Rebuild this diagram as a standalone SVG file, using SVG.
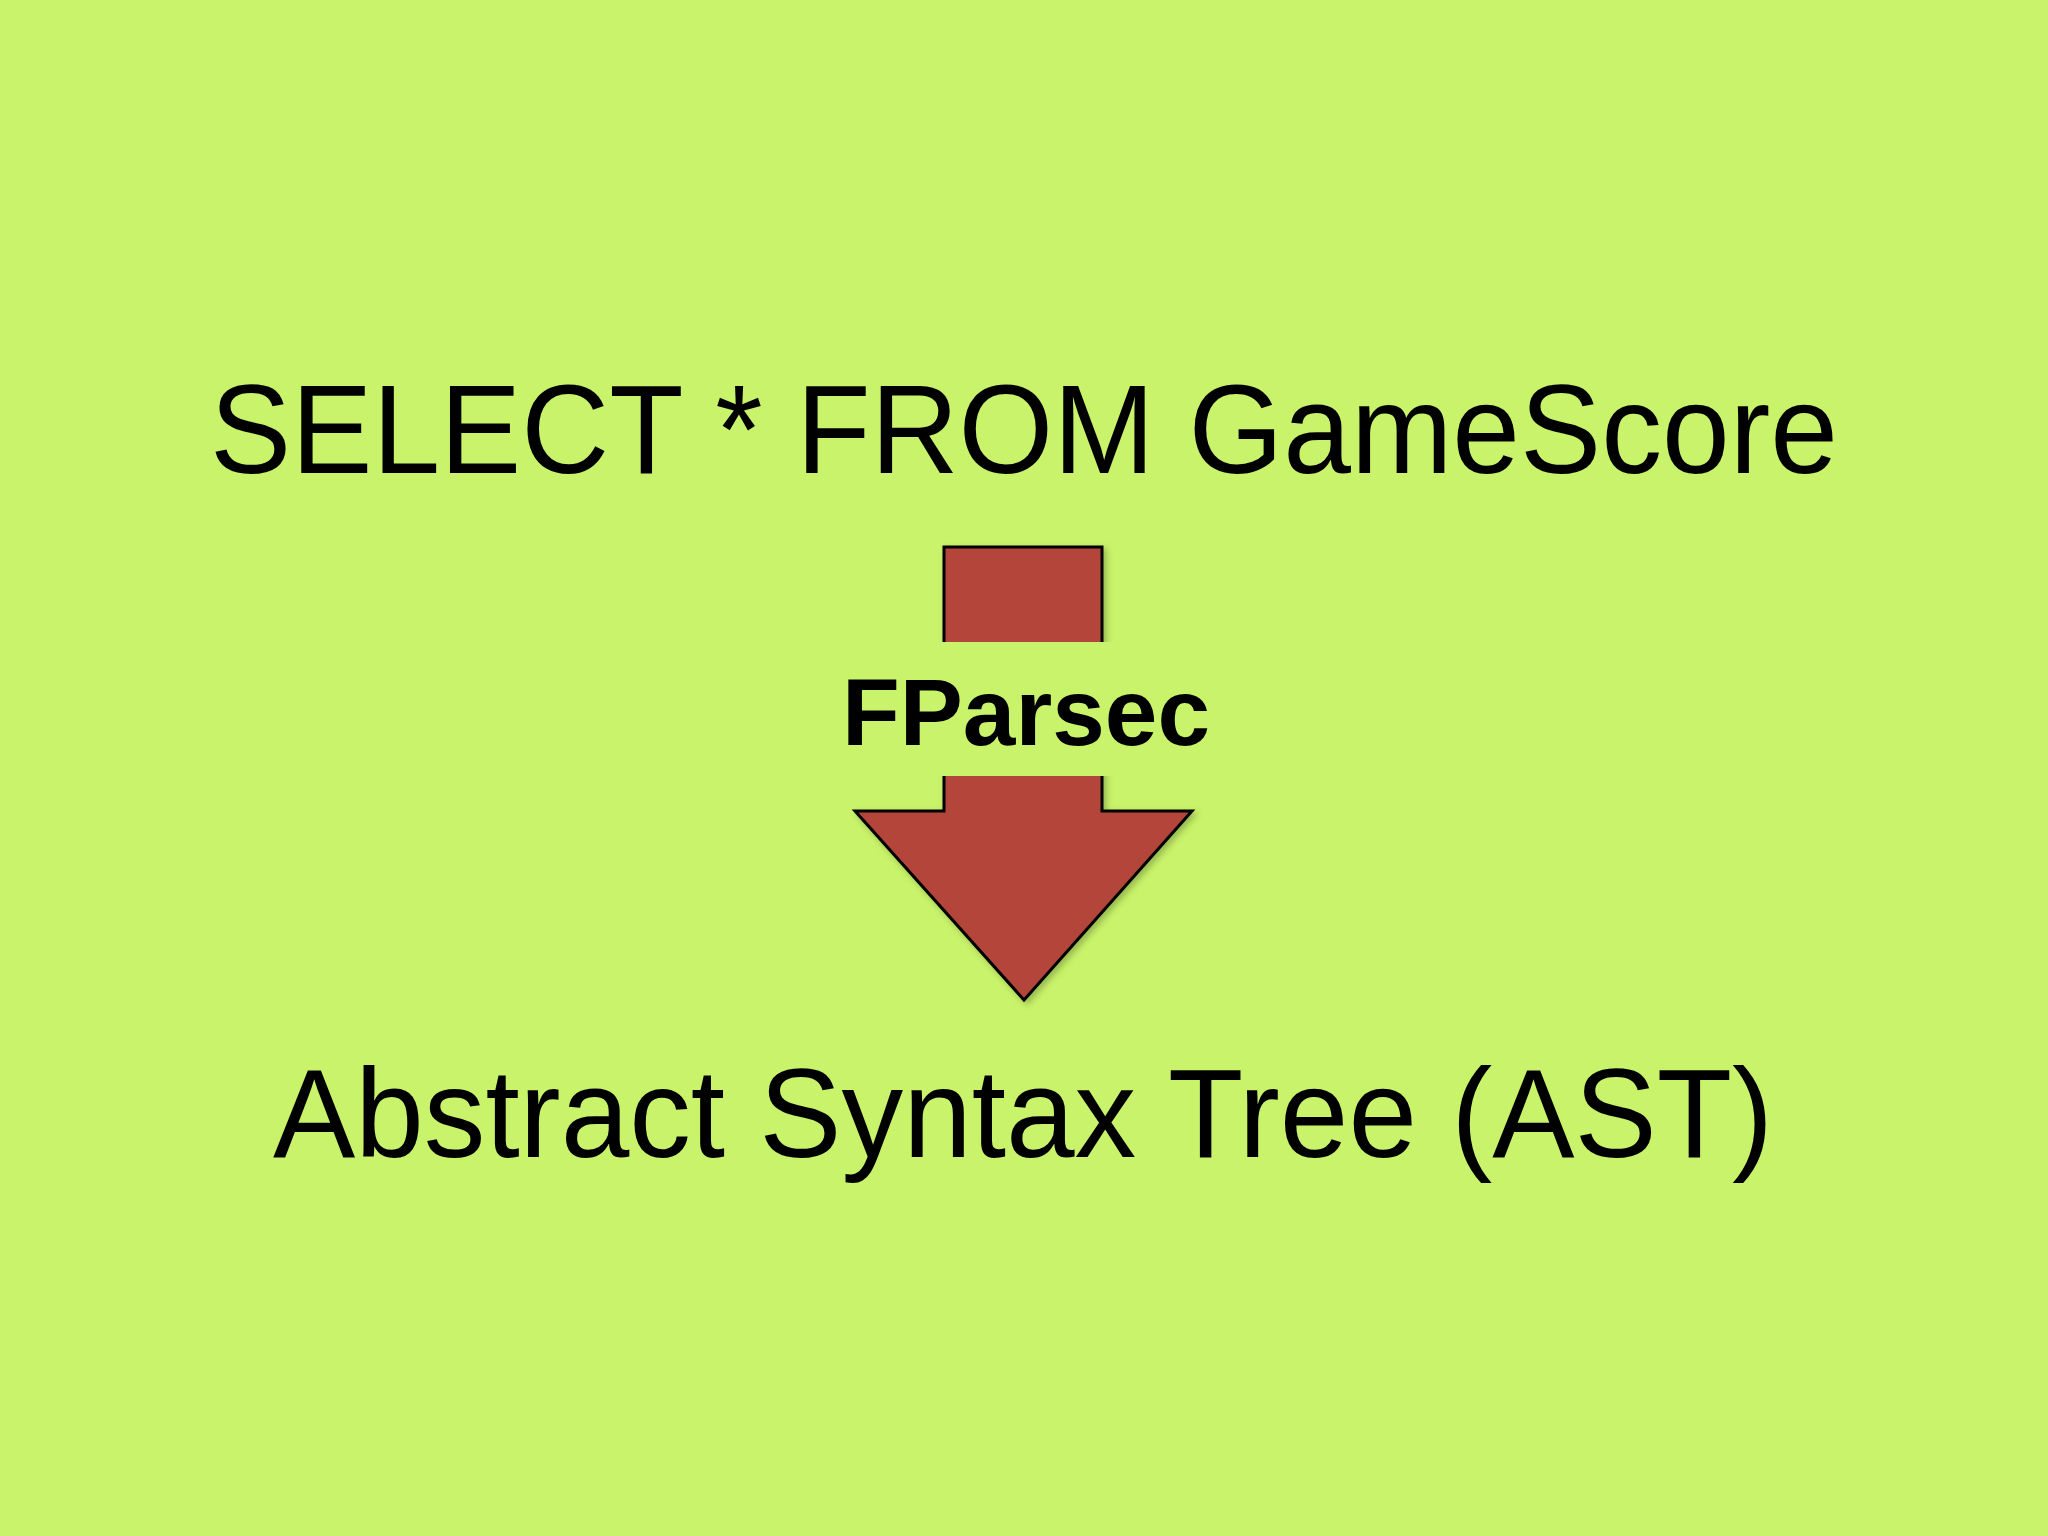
<svg xmlns="http://www.w3.org/2000/svg" width="2048" height="1536" viewBox="0 0 2048 1536">
  <defs>
    <style>
      .big { font-family: "Liberation Sans", Arial, Helvetica, sans-serif; font-size: 126px; fill: #000; }
      .label { font-family: "Liberation Sans", Arial, Helvetica, sans-serif; font-size: 95px; font-weight: bold; fill: #000; }
      .arrow { fill: #b4453a; stroke: #000; stroke-width: 3; stroke-linejoin: miter; }
    </style>
    <filter id="shadow" x="-10%" y="-10%" width="130%" height="130%">
      <feDropShadow dx="3" dy="3" stdDeviation="3" flood-color="#000" flood-opacity="0.25"/>
    </filter>
  </defs>
  <rect x="0" y="0" width="2048" height="1536" fill="#c9f36a"/>

  <g id="source">
    <text class="big" x="210" y="473" textLength="1628" lengthAdjust="spacingAndGlyphs">SELECT * FROM GameScore</text>
  </g>

  <g id="connectors">
    <path class="arrow" filter="url(#shadow)" d="M944,547 L1102,547 L1102,811 L1192,811 L1024,1000 L855,811 L944,811 Z"/>
  </g>

  <g id="parser">
    <rect x="900" y="642" width="240" height="134" fill="#c9f36a"/>
    <text class="label" x="842" y="745" textLength="368" lengthAdjust="spacingAndGlyphs">FParsec</text>
  </g>

  <g id="ast">
    <text class="big" x="273" y="1157" textLength="1500" lengthAdjust="spacingAndGlyphs">Abstract Syntax Tree (AST)</text>
  </g>
</svg>
